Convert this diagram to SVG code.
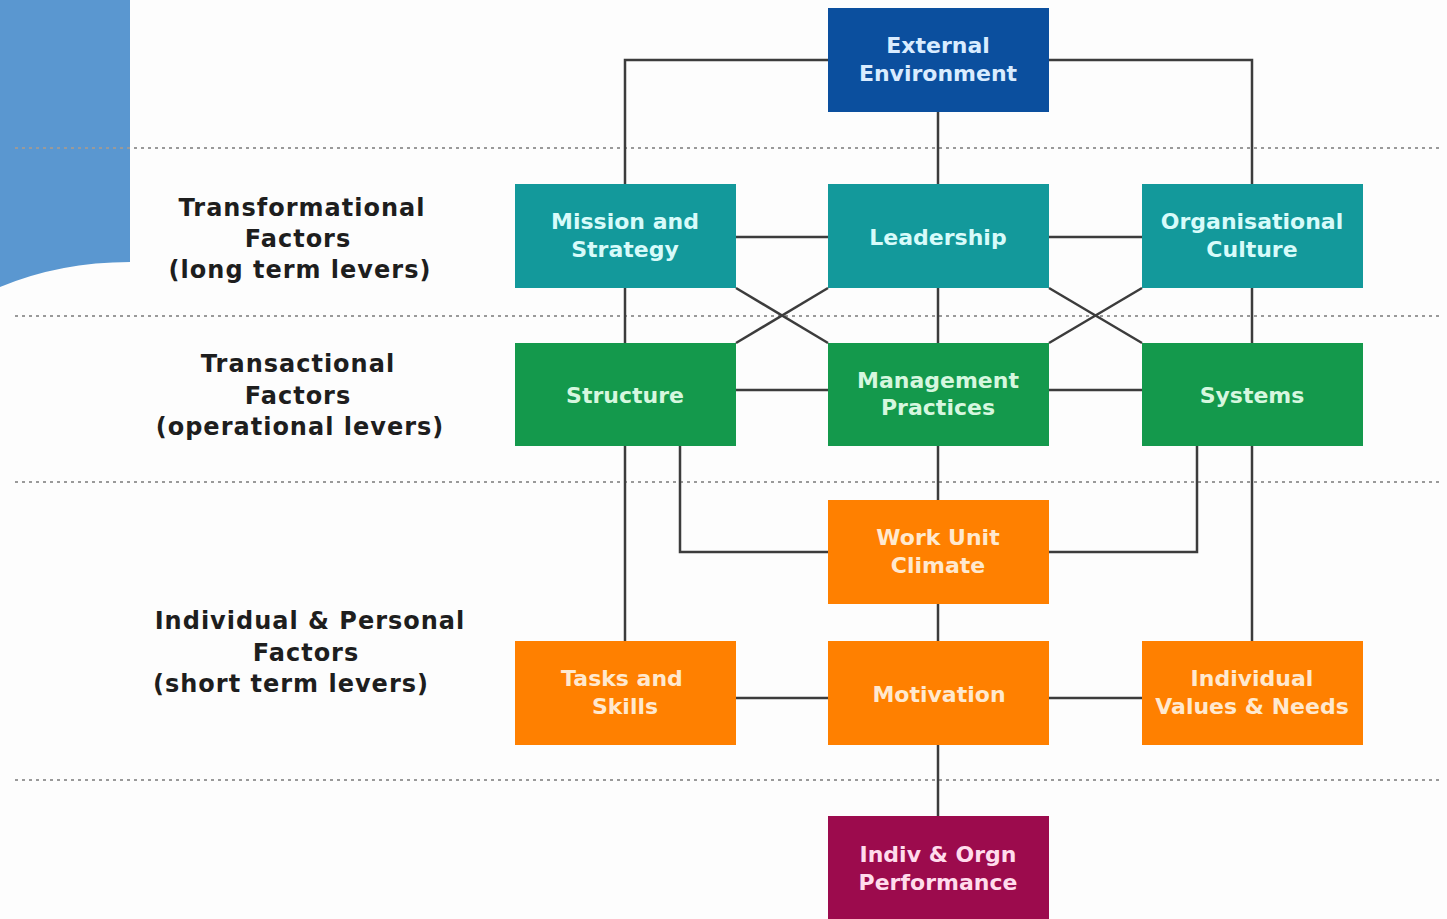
<svg xmlns="http://www.w3.org/2000/svg" width="1447" height="919" viewBox="0 0 1447 919">
<style>
.bg{fill:#fdfdfd}
.sep{stroke:#9a9a9a;stroke-width:2;stroke-dasharray:3 4;fill:none}
.con{stroke:#3c3c3c;stroke-width:2.5;fill:none}
.lbl{font-family:"DejaVu Sans",Verdana,sans-serif;font-weight:bold;font-size:24px;letter-spacing:1px;fill:#1e1e1e;text-anchor:middle}
.nt{font-family:"DejaVu Sans",Verdana,sans-serif;font-weight:bold;font-size:22px;text-anchor:middle}
.blue{fill:#0b4f9e}
.teal{fill:#13999b}
.green{fill:#14994c}
.orange{fill:#ff8000}
.maroon{fill:#9c0b4d}
.tb{fill:#d9ecff}
.tt{fill:#d8fbfa}
.tg{fill:#d6f7df}
.to{fill:#ffe9cf}
.tm{fill:#ffdcec}
</style>
<rect class="bg" x="0" y="0" width="1447" height="919"/>
<path d="M0 0 H130 V262 Q60 262 0 287 Z" fill="#5a97d0"/>
<g id="separators">
<line class="sep" x1="15" y1="148" x2="1440" y2="148"/>
<line class="sep" x1="15" y1="316" x2="1440" y2="316"/>
<line class="sep" x1="15" y1="482" x2="1440" y2="482"/>
<line class="sep" x1="15" y1="780" x2="1440" y2="780"/>
</g>
<g id="labels">
<text class="lbl"><tspan x="302" y="216">Transformational</tspan><tspan x="298" y="247">Factors</tspan><tspan x="300" y="278">(long term levers)</tspan></text>
<text class="lbl"><tspan x="298" y="372">Transactional</tspan><tspan x="298" y="404">Factors</tspan><tspan x="300" y="435">(operational levers)</tspan></text>
<text class="lbl"><tspan x="310" y="629">Individual &amp; Personal</tspan><tspan x="306" y="661">Factors</tspan><tspan x="291" y="692">(short term levers)</tspan></text>
</g>
<g id="connectors">
<polyline class="con" points="828,60 625,60 625,184"/>
<polyline class="con" points="1049,60 1252,60 1252,184"/>
<line class="con" x1="938" y1="112" x2="938" y2="184"/>
<line class="con" x1="736" y1="237" x2="828" y2="237"/>
<line class="con" x1="1049" y1="237" x2="1142" y2="237"/>
<line class="con" x1="625" y1="288" x2="625" y2="343"/>
<line class="con" x1="938" y1="288" x2="938" y2="343"/>
<line class="con" x1="1252" y1="288" x2="1252" y2="343"/>
<line class="con" x1="736" y1="288" x2="828" y2="343"/>
<line class="con" x1="828" y1="288" x2="736" y2="343"/>
<line class="con" x1="1049" y1="288" x2="1142" y2="343"/>
<line class="con" x1="1142" y1="288" x2="1049" y2="343"/>
<line class="con" x1="736" y1="390" x2="828" y2="390"/>
<line class="con" x1="1049" y1="390" x2="1142" y2="390"/>
<polyline class="con" points="680,446 680,552 828,552"/>
<polyline class="con" points="1197,446 1197,552 1049,552"/>
<line class="con" x1="625" y1="446" x2="625" y2="641"/>
<line class="con" x1="938" y1="446" x2="938" y2="500"/>
<line class="con" x1="1252" y1="446" x2="1252" y2="641"/>
<line class="con" x1="938" y1="604" x2="938" y2="641"/>
<line class="con" x1="736" y1="698" x2="828" y2="698"/>
<line class="con" x1="1049" y1="698" x2="1142" y2="698"/>
<line class="con" x1="938" y1="745" x2="938" y2="816"/>
</g>
<g id="external-environment">
<rect class="blue" x="828" y="8" width="221" height="104"/>
<text class="nt tb"><tspan x="938" y="53">External</tspan><tspan x="938" y="81">Environment</tspan></text>
</g>
<g id="mission-strategy">
<rect class="teal" x="515" y="184" width="221" height="104"/>
<text class="nt tt"><tspan x="625" y="229">Mission and</tspan><tspan x="625" y="257">Strategy</tspan></text>
</g>
<g id="leadership">
<rect class="teal" x="828" y="184" width="221" height="104"/>
<text class="nt tt" x="938" y="245">Leadership</text>
</g>
<g id="organisational-culture">
<rect class="teal" x="1142" y="184" width="221" height="104"/>
<text class="nt tt"><tspan x="1252" y="229">Organisational</tspan><tspan x="1252" y="257">Culture</tspan></text>
</g>
<g id="structure">
<rect class="green" x="515" y="343" width="221" height="103"/>
<text class="nt tg" x="625" y="403">Structure</text>
</g>
<g id="management-practices">
<rect class="green" x="828" y="343" width="221" height="103"/>
<text class="nt tg"><tspan x="938" y="388">Management</tspan><tspan x="938" y="415">Practices</tspan></text>
</g>
<g id="systems">
<rect class="green" x="1142" y="343" width="221" height="103"/>
<text class="nt tg" x="1252" y="403">Systems</text>
</g>
<g id="work-unit-climate">
<rect class="orange" x="828" y="500" width="221" height="104"/>
<text class="nt to"><tspan x="938" y="545">Work Unit</tspan><tspan x="938" y="573">Climate</tspan></text>
</g>
<g id="tasks-skills">
<rect class="orange" x="515" y="641" width="221" height="104"/>
<text class="nt to"><tspan x="622" y="686">Tasks and</tspan><tspan x="625" y="714">Skills</tspan></text>
</g>
<g id="motivation">
<rect class="orange" x="828" y="641" width="221" height="104"/>
<text class="nt to" x="939" y="702">Motivation</text>
</g>
<g id="individual-values-needs">
<rect class="orange" x="1142" y="641" width="221" height="104"/>
<text class="nt to"><tspan x="1252" y="686">Individual</tspan><tspan x="1252" y="714">Values &amp; Needs</tspan></text>
</g>
<g id="performance">
<rect class="maroon" x="828" y="816" width="221" height="110"/>
<text class="nt tm"><tspan x="938" y="862">Indiv &amp; Orgn</tspan><tspan x="938" y="890">Performance</tspan></text>
</g>
</svg>
